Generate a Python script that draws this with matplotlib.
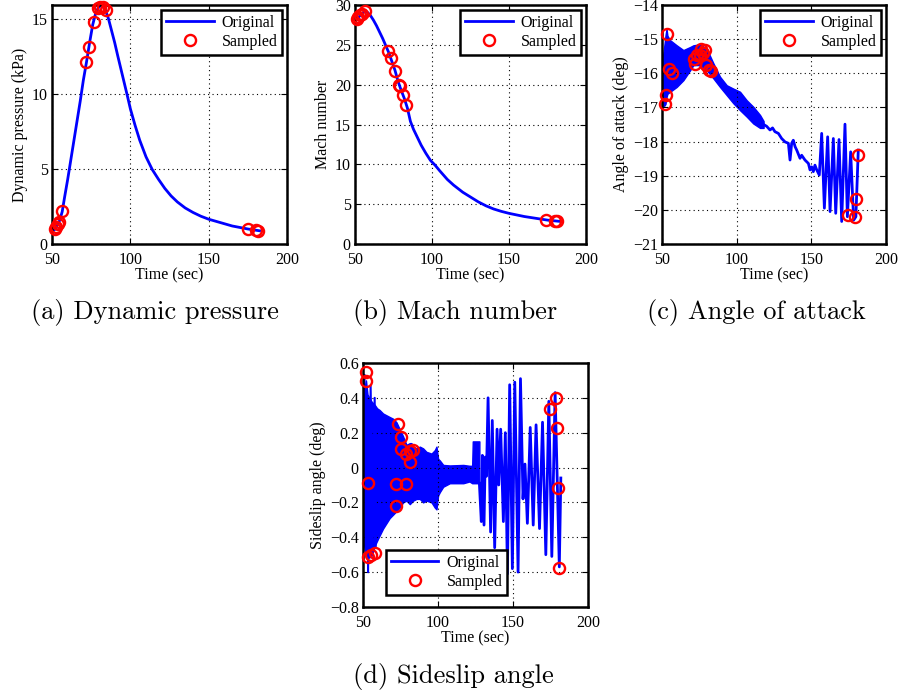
import numpy as np
import matplotlib
matplotlib.use("Agg")
import matplotlib.pyplot as plt

plt.rcParams['font.family'] = ['Liberation Serif', 'DejaVu Serif']
plt.rcParams['font.size'] = 11.5

# ---- (a) dynamic pressure (kPa) ----
t_q = [51, 52, 53, 54, 55, 56.5, 58, 60, 62, 64, 66, 68, 70, 72, 74, 76, 78, 80, 82, 84,
       86, 88, 90, 92, 95, 98, 100, 103, 106, 110, 114, 118, 122, 126, 130, 135, 140, 145,
       150, 155, 160, 165, 170, 175, 182.5]
q = [0.9, 1.0, 1.2, 1.35, 1.6, 2.15, 3.1, 4.3, 5.6, 6.9, 8.2, 9.5, 10.9, 12.1, 13.4, 14.6,
     15.4, 15.8, 15.85, 15.6, 15.0, 14.2, 13.4, 12.5, 11.2, 9.9, 9.0, 7.9, 6.9, 5.8, 4.95,
     4.3, 3.7, 3.2, 2.8, 2.4, 2.1, 1.85, 1.65, 1.5, 1.35, 1.2, 1.1, 1.0, 0.88]
ts_q = [52.0, 52.8, 53.5, 54.5, 56.6, 71.9, 73.4, 76.5, 79.3, 80.8, 82.3, 84.2, 175.3, 180.1, 181.5]
qs = [1.0, 1.15, 1.3, 1.45, 2.2, 12.1, 13.1, 14.8, 15.7, 15.75, 15.75, 15.6, 1.0, 0.9, 0.88]

# ---- (b) Mach number ----
t_m = [51, 52, 53, 54, 55, 56.5, 58, 60, 62, 64, 66, 68, 70, 72, 74, 76, 78, 80, 82, 84,
       86, 88, 90, 93, 96, 99, 102, 105, 110, 114, 120, 125, 130, 135, 140, 145, 150, 160,
       170, 175, 182.5]
mach = [28.2, 28.4, 28.6, 28.8, 29.0, 29.2, 29.1, 28.7, 28.1, 27.4, 26.6, 25.8, 24.9, 24.0,
        22.9, 21.8, 20.4, 19.3, 18.3, 17.1, 15.4, 14.4, 13.6, 12.4, 11.4, 10.5, 9.9, 9.2,
        8.1, 7.4, 6.5, 5.9, 5.3, 4.8, 4.4, 4.1, 3.85, 3.45, 3.15, 3.0, 2.85]
ts_m = [51.1, 52.2, 53.2, 54.3, 56.5, 71.6, 73.1, 76.3, 78.4, 79.1, 81.2, 83.4, 174.3, 179.9, 181.5]
ms = [28.25, 28.5, 28.7, 28.9, 29.2, 24.2, 23.4, 21.7, 20.0, 19.8, 18.7, 17.5, 3.0, 2.95, 2.9]

# ---- (c) angle of attack (deg) ----
t_aoa_band = [50.6, 51.5, 52.3, 53.0, 53.6, 55.4, 59.8, 64.3, 68.8, 71.0, 75.4, 79.9, 84.4,
              88.8, 93.3, 97.8, 102.2, 106.7, 111.1, 115.6, 118.0]
aoa_hi = [-15.5, -15.2, -14.9, -14.7, -14.9, -15.03, -15.18, -15.32, -15.23, -15.18, -15.15,
          -15.28, -15.71, -16.1, -16.35, -16.45, -16.54, -16.79, -16.98, -17.22, -17.4]
aoa_lo = [-16.95, -16.95, -16.9, -16.7, -16.6, -16.54, -16.4, -16.2, -15.91, -15.76, -15.76,
          -15.91, -16.15, -16.4, -16.64, -16.88, -17.08, -17.27, -17.47, -17.6, -17.6]
t_aoa = [118.0, 120.0, 122.3, 124.0, 125.6, 127.9, 130.1, 132.4, 134.6, 135.7, 136.8, 137.9,
         139.1, 140.2, 142.4, 143.5, 145.7, 148.0, 149.1, 150.2, 151.3, 152.4, 153.6, 155.3,
         156.9, 158.7, 160.9, 162.5, 164.7, 166.3, 168.5, 170.3, 172.5, 174.1, 176.3, 178.3,
         179.8, 181.4]
aoa = [-17.5, -17.55, -17.66, -17.6, -17.71, -17.76, -17.91, -18.01, -18.05, -18.54, -18.05,
       -17.96, -18.15, -18.25, -18.49, -18.4, -18.54, -18.64, -18.83, -18.74, -18.88, -18.69,
       -18.83, -18.98, -17.76, -19.95, -17.86, -20.05, -17.91, -20.1, -17.94, -20.34, -17.49,
       -20.2, -18.3, -20.3, -20.2, -18.25]
ts_aoa = [52.0, 52.5, 53.1, 54.7, 56.9, 71.4, 72.1, 73.6, 75.4, 75.9, 77.2, 78.7, 79.5, 81.7,
          83.0, 174.3, 179.3, 179.8, 181.4]
aoas = [-16.91, -16.64, -14.86, -15.86, -15.98, -15.57, -15.74, -15.45, -15.47, -15.28, -15.4,
        -15.32, -15.76, -15.89, -15.92, -20.15, -20.2, -19.69, -18.38]

# ---- (d) sideslip angle (deg) ----
t_beta_band = [50.8, 52.0, 53.0, 55.6, 57.8, 59.4, 61.1, 63.4, 65.6, 67.8, 70.1, 72.3, 74.5,
               76.7, 79.0, 81.2, 82.3, 83.4, 85.7, 87.9, 90.1, 92.3, 95.7, 97.9, 99.0, 100.1,
               101.3, 103.5, 107.9, 116.9, 121.0, 122.8, 123.2, 127.6]
beta_hi = [0.45, 0.50, 0.42, 0.38, 0.36, 0.34, 0.33, 0.31, 0.30, 0.29, 0.28, 0.26, 0.22, 0.18,
           0.13, 0.14, 0.14, 0.12, 0.11, 0.12, 0.11, 0.09, 0.08, 0.10, 0.12, 0.05, 0.04, 0.015,
           0.012, 0.015, 0.01, 0.01, 0.15, 0.15]
beta_lo = [-0.45, -0.50, -0.52, -0.51, -0.45, -0.42, -0.39, -0.35, -0.32, -0.29, -0.27, -0.25,
           -0.23, -0.20, -0.19, -0.21, -0.20, -0.19, -0.18, -0.18, -0.20, -0.19, -0.20, -0.23,
           -0.24, -0.16, -0.14, -0.11, -0.09, -0.09, -0.08, -0.09, -0.09, -0.09]
t_beta_spk = [51.0, 51.8, 52.5, 53.4, 54.3, 54.8, 55.1, 56.5, 57.8, 58.5]
beta_spk = [0.53, -0.48, 0.46, -0.60, 0.35, -0.50, 0.47, -0.40, 0.40, -0.45]
t_beta = [127.6, 128.9, 129.6, 130.7, 131.5, 132.3, 133.4, 135.1, 136.2, 137.8, 139.4, 140.5,
          141.8, 143.6, 144.9, 146.3, 147.8, 149.6, 151.2, 153.4, 155.0, 156.7, 158.0, 159.6,
          161.5, 163.5, 165.4, 167.7, 169.7, 171.9, 173.9, 175.9, 178.1, 180.9, 181.9]
beta = [-0.09, -0.31, 0.07, -0.33, 0.06, -0.05, 0.40, -0.37, 0.27, -0.46, 0.22, -0.10, 0.22,
        -0.31, 0.20, -0.61, 0.475, -0.58, 0.49, -0.60, 0.51, -0.18, 0.02, -0.32, 0.23, -0.33,
        0.245, -0.35, 0.26, -0.50, 0.38, -0.51, 0.43, -0.57, -0.06]
ts_beta = [51.8, 52.2, 53.3, 53.3, 55.6, 57.8, 71.8, 71.8, 73.4, 75.6, 75.6, 79.0, 79.0, 81.2,
           81.2, 83.4, 174.4, 178.8, 179.3, 179.7, 180.8]
betas = [0.495, 0.548, -0.086, -0.513, -0.499, -0.493, -0.092, -0.223, 0.25, 0.176, 0.104,
         0.078, -0.092, 0.094, 0.031, 0.098, 0.337, 0.399, 0.226, -0.12, -0.575]

x_ticks = [50, 100, 150, 200]
captions = ["(a) Dynamic pressure", "(b) Mach number", "(c) Angle of attack", "(d) Sideslip angle"]

BLUE = (0, 0, 1)
RED = (1, 0, 0)


def style(ax, ylab, ylim, yticks, yticklabels=None):
    ax.set_xlim(50, 200)
    ax.set_ylim(*ylim)
    ax.set_xticks(x_ticks)
    ax.set_yticks(yticks)
    if yticklabels is not None:
        ax.set_yticklabels(yticklabels)
    ax.grid(True, linestyle=(0, (1, 3)), color='k', linewidth=0.8)
    ax.tick_params(direction='in', top=True, right=True, length=4, width=0.8, pad=3)
    ax.tick_params(axis='x', pad=5.5)
    for s in ax.spines.values():
        s.set_linewidth(1.8)
    ax.set_xlabel("Time (sec)", labelpad=0)
    ax.set_ylabel(ylab, labelpad=3)


def samples(ax, t, v):
    ax.plot(t, v, 'o', mfc='none', mec=RED, mew=1.7, ms=8, label="Sampled", clip_on=False, zorder=4)


def legend(ax, **kw):
    lg = ax.legend(numpoints=1, handlelength=3.0, fancybox=False, framealpha=1,
                   edgecolor='k', borderpad=0.3, labelspacing=0.2, handletextpad=0.5,
                   borderaxespad=0.3, **kw)
    lg.get_frame().set_linewidth(1.8)


fig = plt.figure(figsize=(9, 6.96), dpi=100)

ax = fig.add_axes([0.0578, 0.6494, 0.2611, 0.3434])
ax.plot(t_q, q, color=BLUE, lw=2, label="Original")
samples(ax, ts_q, qs)
style(ax, "Dynamic pressure (kPa)", (0, 15.9), [0, 5, 10, 15])
legend(ax, loc='upper right')

ax = fig.add_axes([0.3944, 0.6494, 0.2567, 0.3434])
ax.plot(t_m, mach, color=BLUE, lw=2, label="Original")
samples(ax, ts_m, ms)
style(ax, "Mach number", (0, 30), [0, 5, 10, 15, 20, 25, 30])
legend(ax, loc='upper right')

ax = fig.add_axes([0.7356, 0.6494, 0.2489, 0.3434])
ax.fill_between(t_aoa_band, aoa_lo, aoa_hi, color=BLUE, lw=1.0)
ax.plot(t_aoa, aoa, color=BLUE, lw=2, label="Original")
samples(ax, ts_aoa, aoas)
style(ax, "Angle of attack (deg)", (-21, -14), list(range(-21, -13)))
legend(ax, loc='upper right')

ax = fig.add_axes([0.4033, 0.1279, 0.25, 0.3506])
ax.fill_between(t_beta_band, beta_lo, beta_hi, color=BLUE, lw=1.0)
ax.plot(t_beta_spk, beta_spk, color=BLUE, lw=1.5)
ax.plot(t_beta, beta, color=BLUE, lw=2, label="Original")
samples(ax, ts_beta, betas)
style(ax, "Sideslip angle (deg)", (-0.8, 0.6), [-0.8, -0.6, -0.4, -0.2, 0, 0.2, 0.4, 0.6],
      ["\u22120.8", "\u22120.6", "\u22120.4", "\u22120.2", "0", "0.2", "0.4", "0.6"])
legend(ax, loc='lower left', bbox_to_anchor=(0.08, 0.03))

cap_pos = [(155, 313), (455, 313), (756, 313), (453, 677)]
for (cx, cy), txt in zip(cap_pos, captions):
    fig.text(cx / 900, 1 - cy / 696, txt, ha='center', va='center', fontsize=19, family='cmr10')

fig.savefig("out.png", dpi=100)
